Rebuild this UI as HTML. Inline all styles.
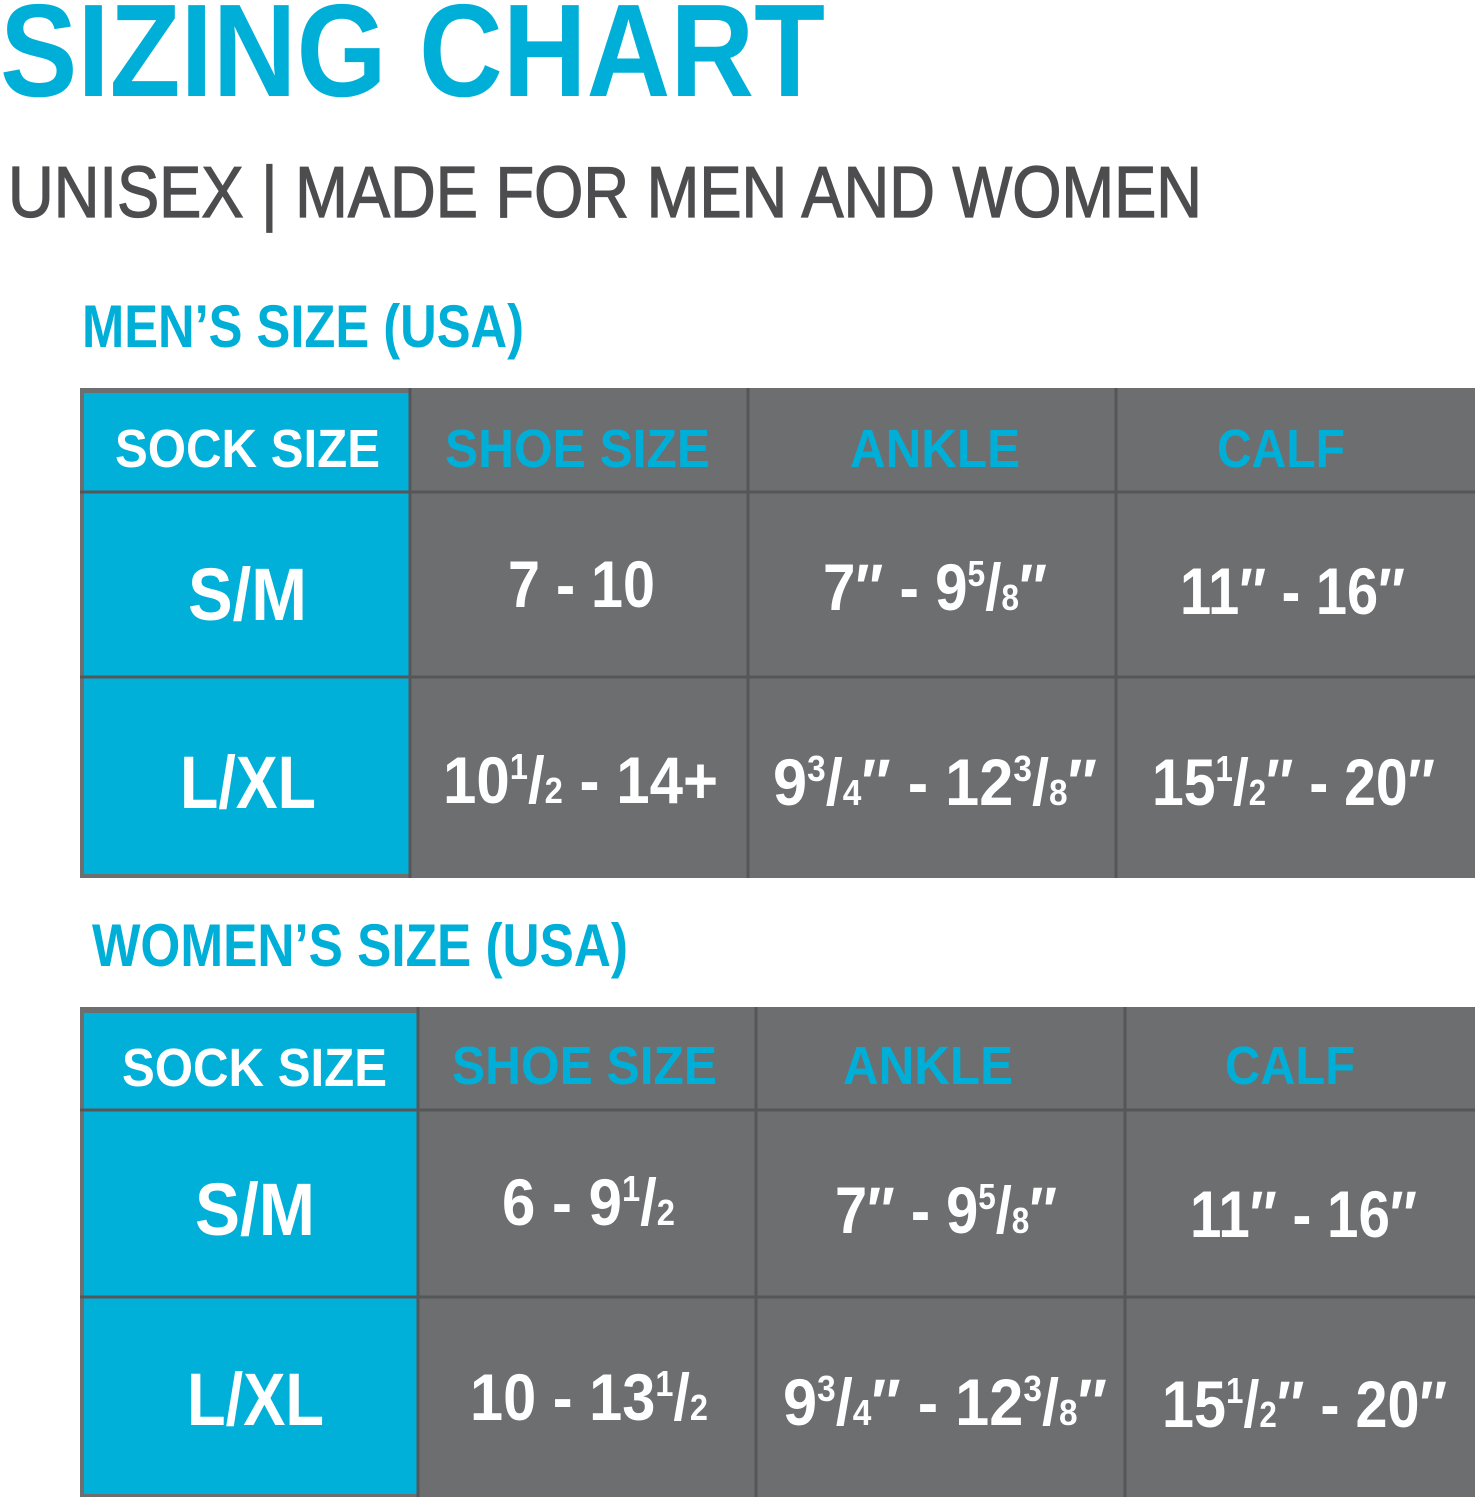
<!DOCTYPE html>
<html><head><meta charset="utf-8"><style>
html,body{margin:0;padding:0;background:#fff;width:1478px;height:1500px;overflow:hidden}
svg{display:block}
text{font-family:"Liberation Sans",sans-serif;font-weight:bold}
.w{fill:#fff}.b{fill:#00afd7}
</style></head><body>
<svg width="1478" height="1500" viewBox="0 0 1478 1500" xmlns="http://www.w3.org/2000/svg">
<text x="0" y="96" font-size="132" class="b" textLength="825" lengthAdjust="spacingAndGlyphs">SIZING CHART</text>
<text x="8" y="217" font-size="72" fill="#4d4d4f" stroke="#4d4d4f" stroke-width="1.3" style="font-weight:normal" textLength="1194" lengthAdjust="spacingAndGlyphs">UNISEX | MADE FOR MEN AND WOMEN</text>
<text x="82" y="347" font-size="60" class="b" textLength="442" lengthAdjust="spacingAndGlyphs">MEN’S SIZE (USA)</text>
<text x="92" y="966" font-size="60" class="b" textLength="536" lengthAdjust="spacingAndGlyphs">WOMEN’S SIZE (USA)</text>

<!-- Table 1 -->
<rect x="80" y="388" width="1395" height="490" fill="#6d6e70"/>
<rect x="84" y="393" width="326" height="481" fill="#00b0d8"/>
<g stroke="#555658" stroke-width="3">
<line x1="410" y1="388" x2="410" y2="878"/><line x1="748" y1="388" x2="748" y2="878"/><line x1="1116" y1="388" x2="1116" y2="878"/>
<line x1="80" y1="492" x2="1475" y2="492"/><line x1="80" y1="677" x2="1475" y2="677"/>
</g>
<text x="115" y="467" font-size="54" class="w" textLength="265" lengthAdjust="spacingAndGlyphs">SOCK SIZE</text>
<text x="445" y="467" font-size="54" class="b" textLength="265" lengthAdjust="spacingAndGlyphs">SHOE SIZE</text>
<text x="850" y="467" font-size="54" class="b" textLength="170" lengthAdjust="spacingAndGlyphs">ANKLE</text>
<text x="1217" y="467" font-size="54" class="b" textLength="128" lengthAdjust="spacingAndGlyphs">CALF</text>
<text x="188" y="620" font-size="74" class="w" textLength="119" lengthAdjust="spacingAndGlyphs">S/M</text>
<text x="508" y="607" font-size="66" class="w" textLength="147" lengthAdjust="spacingAndGlyphs">7 - 10</text>
<text x="823" y="610" font-size="66" class="w" textLength="224" lengthAdjust="spacingAndGlyphs">7″ - 9<tspan font-size="36" dy="-24">5</tspan><tspan dy="24">/</tspan><tspan font-size="36">8</tspan>″</text>
<text x="1180" y="614" font-size="66" class="w" textLength="225" lengthAdjust="spacingAndGlyphs">11″ - 16″</text>
<text x="180" y="808" font-size="74" class="w" textLength="136" lengthAdjust="spacingAndGlyphs">L/XL</text>
<text x="443" y="803" font-size="66" class="w" textLength="275" lengthAdjust="spacingAndGlyphs">10<tspan font-size="36" dy="-24">1</tspan><tspan dy="24">/</tspan><tspan font-size="36">2</tspan> - 14+</text>
<text x="773" y="805" font-size="66" class="w" textLength="324" lengthAdjust="spacingAndGlyphs">9<tspan font-size="36" dy="-24">3</tspan><tspan dy="24">/</tspan><tspan font-size="36">4</tspan>″ - 12<tspan font-size="36" dy="-24">3</tspan><tspan dy="24">/</tspan><tspan font-size="36">8</tspan>″</text>
<text x="1152" y="805" font-size="66" class="w" textLength="283" lengthAdjust="spacingAndGlyphs">15<tspan font-size="36" dy="-24">1</tspan><tspan dy="24">/</tspan><tspan font-size="36">2</tspan>″ - 20″</text>

<!-- Table 2 -->
<rect x="80" y="1007" width="1395" height="490" fill="#6d6e70"/>
<rect x="84" y="1013" width="334" height="481" fill="#00b0d8"/>
<g stroke="#555658" stroke-width="3">
<line x1="418" y1="1007" x2="418" y2="1497"/><line x1="756" y1="1007" x2="756" y2="1497"/><line x1="1125" y1="1007" x2="1125" y2="1497"/>
<line x1="80" y1="1110" x2="1475" y2="1110"/><line x1="80" y1="1297" x2="1475" y2="1297"/>
</g>
<text x="122" y="1086" font-size="54" class="w" textLength="265" lengthAdjust="spacingAndGlyphs">SOCK SIZE</text>
<text x="452" y="1084" font-size="54" class="b" textLength="265" lengthAdjust="spacingAndGlyphs">SHOE SIZE</text>
<text x="843" y="1084" font-size="54" class="b" textLength="170" lengthAdjust="spacingAndGlyphs">ANKLE</text>
<text x="1225" y="1084" font-size="54" class="b" textLength="130" lengthAdjust="spacingAndGlyphs">CALF</text>
<text x="195" y="1235" font-size="74" class="w" textLength="120" lengthAdjust="spacingAndGlyphs">S/M</text>
<text x="502" y="1225" font-size="66" class="w" textLength="173" lengthAdjust="spacingAndGlyphs">6 - 9<tspan font-size="36" dy="-24">1</tspan><tspan dy="24">/</tspan><tspan font-size="36">2</tspan></text>
<text x="835" y="1233" font-size="66" class="w" textLength="222" lengthAdjust="spacingAndGlyphs">7″ - 9<tspan font-size="36" dy="-24">5</tspan><tspan dy="24">/</tspan><tspan font-size="36">8</tspan>″</text>
<text x="1190" y="1237" font-size="66" class="w" textLength="227" lengthAdjust="spacingAndGlyphs">11″ - 16″</text>
<text x="187" y="1425" font-size="74" class="w" textLength="137" lengthAdjust="spacingAndGlyphs">L/XL</text>
<text x="470" y="1420" font-size="66" class="w" textLength="238" lengthAdjust="spacingAndGlyphs">10 - 13<tspan font-size="36" dy="-24">1</tspan><tspan dy="24">/</tspan><tspan font-size="36">2</tspan></text>
<text x="783" y="1425" font-size="66" class="w" textLength="324" lengthAdjust="spacingAndGlyphs">9<tspan font-size="36" dy="-24">3</tspan><tspan dy="24">/</tspan><tspan font-size="36">4</tspan>″ - 12<tspan font-size="36" dy="-24">3</tspan><tspan dy="24">/</tspan><tspan font-size="36">8</tspan>″</text>
<text x="1162" y="1427" font-size="66" class="w" textLength="285" lengthAdjust="spacingAndGlyphs">15<tspan font-size="36" dy="-24">1</tspan><tspan dy="24">/</tspan><tspan font-size="36">2</tspan>″ - 20″</text>
</svg>
</body></html>
